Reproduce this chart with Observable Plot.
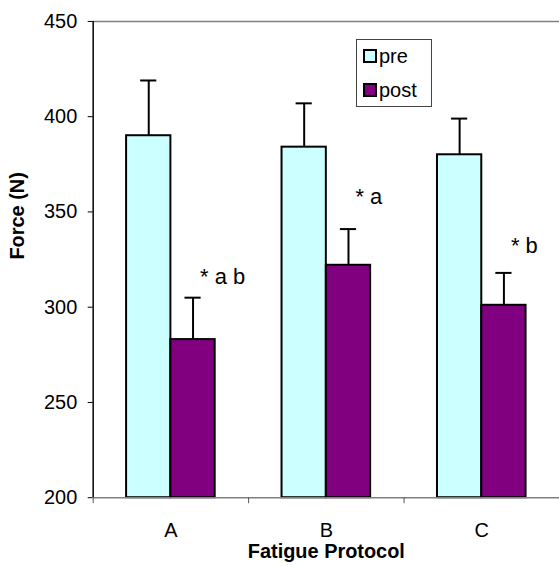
<!DOCTYPE html>
<html>
<head>
<meta charset="utf-8">
<script src="https://cdn.jsdelivr.net/npm/d3@7"></script>
<script src="https://cdn.jsdelivr.net/npm/@observablehq/plot@0.6"></script>
<style>
  html, body { margin: 0; padding: 0; background: white; overflow: hidden; }
  #wrap { position: relative; width: 559px; height: 566px; overflow: hidden; }
  #legend {
    position: absolute; left: 356px; top: 39px; width: 76px; height: 68px;
    border: 1px solid #444; background: white; box-sizing: border-box;
    font-family: "Liberation Sans", Arial, sans-serif; font-size: 20px; color: black;
  }
  .item { position: absolute; left: 6px; display: flex; align-items: center; height: 20px; }
  .sw { width: 10px; height: 10px; border: 2px solid black; margin-right: 2px; }
</style>
</head>
<body>
<div id="wrap">
  <div id="chart"></div>
  <div id="legend">
    <div class="item" style="top:6px"><span class="sw" id="sw0"></span><span id="lg0"></span></div>
    <div class="item" style="top:40px"><span class="sw" id="sw1"></span><span id="lg1"></span></div>
  </div>
</div>
<script>
// ---- data ----
const groups = ["A", "B", "C"];
const series = ["pre", "post"];
const preMean = [390, 384, 380];
const preUpper = [419, 407, 399];
const postMean = [283, 322, 301];
const postUpper = [305, 341, 318];
const annotations = ["* a b", "* a", "* b"];
const annotationAt = [316, 358, 332];
const yTicks = [200, 250, 300, 350, 400, 450];
const colors = ["#CCFFFF", "#800080"];

// ---- layout constants (in group-width units) ----
const BAR_START = 0.215;
const BAR_W = 0.285;
const CAP = 0.052;

const rows = [];
groups.forEach((g, i) => {
  rows.push({group: g, i, series: "pre", k: 0, value: preMean[i], upper: preUpper[i]});
  rows.push({group: g, i, series: "post", k: 1, value: postMean[i], upper: postUpper[i]});
});
const left = d => d.i + BAR_START + d.k * BAR_W;
const right = d => d.i + BAR_START + (d.k + 1) * BAR_W;
const mid = d => d.i + BAR_START + (d.k + 0.5) * BAR_W;

const ann = groups.map((g, i) => ({i, text: annotations[i], y: annotationAt[i]}));

const chart = Plot.plot({
  width: 561,
  height: 566,
  marginLeft: 93,
  marginRight: 0,
  marginTop: 21,
  marginBottom: 67,
  x: {domain: [0, 3], axis: null},
  y: {domain: [200, 450], axis: null},
  color: {domain: series, range: colors},
  style: {fontFamily: "'Liberation Sans', Arial, sans-serif", fontSize: "20px", color: "black", background: "white", overflow: "visible"},
  marks: [
    Plot.ruleY([450], {stroke: "#808080", strokeWidth: 1.5}),
    Plot.rectY(rows, {x1: left, x2: right, y1: 200, y2: "value", fill: "series", stroke: "black", strokeWidth: 2}),
    Plot.ruleX(rows, {x: mid, y1: "value", y2: "upper", stroke: "black", strokeWidth: 2}),
    Plot.ruleY(rows, {y: "upper", x1: d => mid(d) - CAP, x2: d => mid(d) + CAP, stroke: "black", strokeWidth: 2}),
    Plot.ruleY([200], {stroke: "#808080", strokeWidth: 1.5}),
    Plot.ruleX([0], {stroke: "black", strokeWidth: 1.5}),
    Plot.axisY({ticks: yTicks, tickSize: 5, tickPadding: 11, label: null, stroke: "black", fontSize: 20}),
    Plot.axisX({ticks: [0, 1, 2, 3], tickSize: 6, tickFormat: () => "", label: null, stroke: "#555"}),
    Plot.axisX({ticks: groups.map((g, i) => i + 0.5), tickSize: 0, tickPadding: 25, tickFormat: d => groups[Math.floor(d)], label: null, fontSize: 20}),
    Plot.text(ann, {x: d => d.i + BAR_START + 1.5 * BAR_W, y: "y", text: "text", textAnchor: "start", dx: 7, fontSize: 22}),
    Plot.text(["Force (N)"], {frameAnchor: "left", rotate: -90, dx: -76, fontWeight: "bold", fontSize: 20}),
    Plot.text(["Fatigue Protocol"], {frameAnchor: "bottom", lineAnchor: "middle", dy: 54, fontWeight: "bold", fontSize: 20})
  ]
});
document.getElementById("chart").appendChild(chart);
series.forEach((s, i) => {
  document.getElementById("sw" + i).style.background = colors[i];
  document.getElementById("lg" + i).textContent = s;
});
</script>
</body>
</html>
